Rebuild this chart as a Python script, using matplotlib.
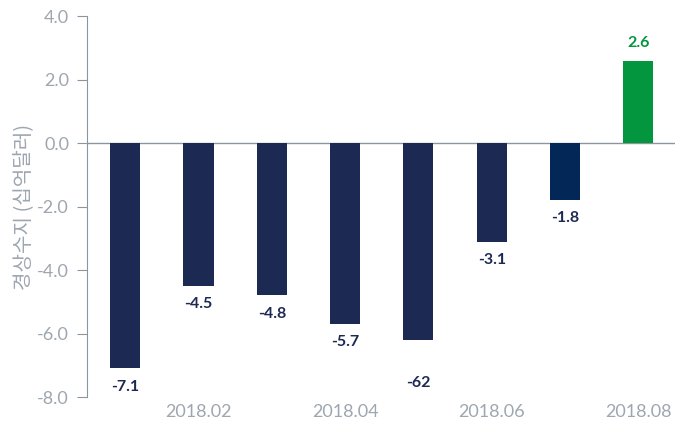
import numpy as np
import matplotlib.pyplot as plt

plt.rcParams['font.family'] = ['Lato', 'Noto Sans CJK KR', 'DejaVu Sans']

months = ['2018.01', '2018.02', '2018.03', '2018.04', '2018.05', '2018.06', '2018.07', '2018.08']
values = [-7.1, -4.5, -4.8, -5.7, -6.2, -3.1, -1.8, 2.6]
labels = ['-7.1', '-4.5', '-4.8', '-5.7', '-62', '-3.1', '-1.8', '2.6']
colors = ['#1c2952'] * 6 + ['#032857', '#03963e']
label_colors = ['#1c2952'] * 7 + ['#03963e']

grey = '#9ea6b0'

fig = plt.figure(figsize=(6.75, 4.26), dpi=100)
ax = fig.add_axes([0.129, 0.068, 0.871, 0.894])

x = np.arange(len(values))
ax.bar(x, values, width=0.41, color=colors, zorder=3)
ax.axhline(0, color='#8c949c', lw=1.0, zorder=2)

# value labels; the May label sits lower in the original
for i, (v, lab) in enumerate(zip(values, labels)):
    if v >= 0:
        off = 13
    elif i == 4:
        off = -31
    else:
        off = -13
    ax.annotate(lab, (i, v), xytext=(0, off), textcoords='offset points',
                ha='center', va='center', fontsize=11.5, fontweight='bold',
                color=label_colors[i])

ax.set_xlim(-0.52, 7.5)
ax.set_ylim(-8, 4)
ax.set_yticks(np.arange(-8, 4.1, 2))
ax.set_yticklabels([f'{t:.1f}' for t in np.arange(-8, 4.1, 2)])
ax.set_xticks(x[1::2])
ax.set_xticklabels(months[1::2])

for s in ['top', 'right', 'bottom']:
    ax.spines[s].set_visible(False)
ax.spines['left'].set_color('#8c949c')
ax.tick_params(axis='y', colors=grey, labelsize=13, length=7, color='#8c949c', pad=6)
ax.tick_params(axis='x', colors=grey, labelsize=13, length=0, pad=5)

ax.set_ylabel('경상수지 (십억달러)', color=grey, fontsize=14.5,
              family=['Noto Sans CJK KR', 'DejaVu Sans'], labelpad=2)

fig.savefig('out.png', dpi=100)
